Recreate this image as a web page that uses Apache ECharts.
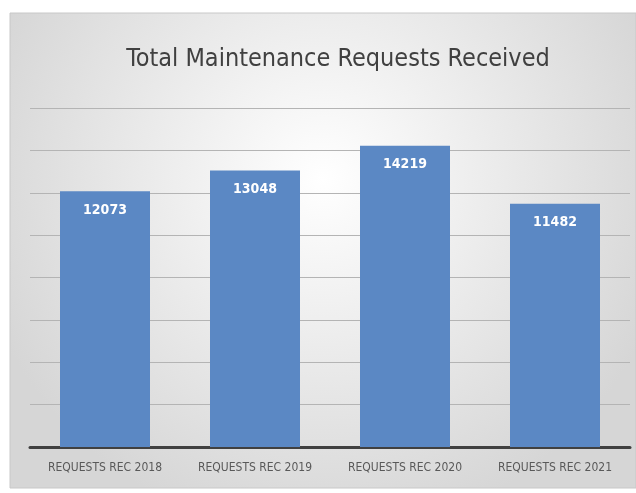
<!DOCTYPE html>
<html>
<head>
<meta charset="utf-8">
<script src="https://cdn.jsdelivr.net/npm/echarts@6/dist/echarts.min.js"></script>
<style>
  html, body { margin: 0; padding: 0; background: #fff; }
  #chart { width: 636px; height: 493px; }
</style>
</head>
<body>
<div id="chart"></div>
<script>
const categories = ["REQUESTS REC 2018", "REQUESTS REC 2019", "REQUESTS REC 2020", "REQUESTS REC 2021"];
const requests = [12073, 13048, 14219, 11482];
const yMax = 16000;
const yStep = 2000;

const narrowFont = "'DejaVu Sans Condensed', Roboto, sans-serif";

const myChart = echarts.init(document.getElementById("chart"));

const options = {
  animation: false,
  graphic: [
    {
      type: "rect",
      z: -10,
      shape: { x: 10, y: 13, width: 626, height: 475 },
      style: {
        fill: new echarts.graphic.RadialGradient(0.5, 0.35, 0.75, [
          { offset: 0, color: "#ffffff" },
          { offset: 1, color: "#d6d6d6" },
        ]),
        stroke: "#c8c8c8",
        lineWidth: 1,
      },
    },
  ],
  title: {
    text: "Total Maintenance Requests Received",
    left: 333,
    top: 42,
    textAlign: "center",
    textStyle: {
      fontFamily: narrowFont,
      fontSize: 25,
      fontWeight: 500,
      color: "#404040",
    },
  },
  grid: {
    left: 30,
    right: 6,
    top: 108,
    bottom: 46,
  },
  xAxis: {
    type: "category",
    data: categories,
    axisTick: { show: false },
    axisLine: { lineStyle: { color: "#404040", width: 3 } },
    axisLabel: {
      interval: 0,
      fontFamily: narrowFont,
      fontSize: 12,
      color: "#595959",
      margin: 15,
    },
  },
  yAxis: {
    type: "value",
    min: 0,
    max: yMax,
    interval: yStep,
    axisLabel: { show: false },
    axisLine: { show: false },
    axisTick: { show: false },
    splitLine: { lineStyle: { color: "#b4b4b4", width: 1 } },
  },
  series: [
    {
      name: "Requests",
      type: "bar",
      data: requests,
      barWidth: "60%",
      itemStyle: { color: "#5b88c4" },
      label: {
        show: true,
        position: "insideTop",
        distance: 12,
        color: "#ffffff",
        fontFamily: narrowFont,
        fontWeight: "bold",
        fontSize: 14,
      },
    },
  ],
};

myChart.setOption(options);
</script>
</body>
</html>
